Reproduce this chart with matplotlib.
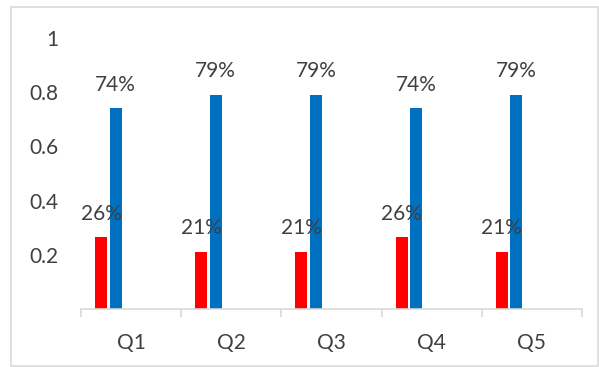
import numpy as np
import matplotlib.pyplot as plt
from matplotlib.patches import Rectangle

quarters = ['Q1', 'Q2', 'Q3', 'Q4', 'Q5']
red_vals = [0.265, 0.21, 0.21, 0.265, 0.21]
blue_vals = [0.74, 0.79, 0.79, 0.74, 0.79]
red_labels = ['26%', '21%', '21%', '26%', '21%']
blue_labels = ['74%', '79%', '79%', '74%', '79%']

plt.rcParams['font.family'] = ['Lato', 'DejaVu Sans']
txt = '#404040'
grey = '#d9d9d9'

fig = plt.figure(figsize=(5.99, 3.67), dpi=100)
ax = fig.add_axes([81/599, 1 - 309/367, 501/599, 271/367])

x = np.arange(len(quarters))
ax.bar(x - 0.30, red_vals, width=0.12, color='#ff0000')
ax.bar(x - 0.155, blue_vals, width=0.12, color='#0070c0')

for i in range(len(quarters)):
    ax.annotate(red_labels[i], (x[i] - 0.30, red_vals[i]), xytext=(0, 17),
                textcoords='offset points', ha='center', va='center',
                fontsize=15, color=txt)
    ax.annotate(blue_labels[i], (x[i] - 0.155, blue_vals[i]), xytext=(0, 17),
                textcoords='offset points', ha='center', va='center',
                fontsize=15, color=txt)

ax.set_xlim(-0.5, 4.5)
ax.set_ylim(0, 1)
ax.set_yticks([0.2, 0.4, 0.6, 0.8, 1.0])
ax.set_yticklabels(['0.2', '0.4', '0.6', '0.8', '1'])
ax.tick_params(axis='y', length=0, pad=16, labelsize=15, labelcolor=txt)

ax.set_xticks(x)
ax.set_xticklabels(quarters)
ax.set_xticks(np.arange(-0.5, 5, 1), minor=True)
ax.tick_params(axis='x', which='major', length=0, pad=17, labelsize=15, labelcolor=txt)
ax.tick_params(axis='x', which='minor', length=6, width=1.2, color=grey)

for s in ['top', 'right', 'left']:
    ax.spines[s].set_visible(False)
ax.spines['bottom'].set_color(grey)
ax.spines['bottom'].set_linewidth(1.2)

fig.patches.append(Rectangle((11/599, 1/367), 587/599, 359/367, transform=fig.transFigure,
                             fill=False, edgecolor=grey, linewidth=1.2))

fig.savefig('out.png', dpi=100)
